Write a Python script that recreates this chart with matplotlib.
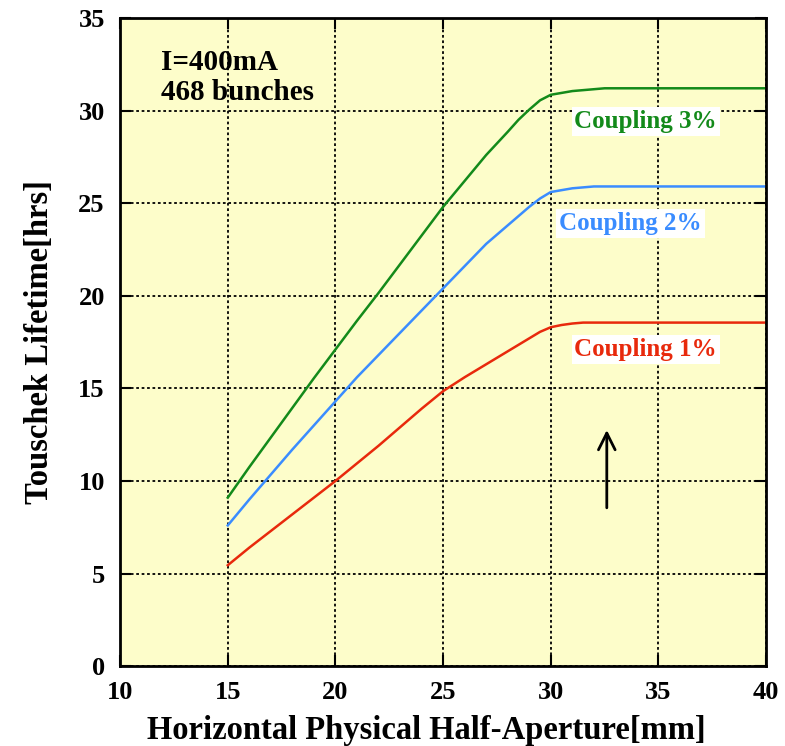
import numpy as np
import matplotlib
matplotlib.use('Agg')
import matplotlib.pyplot as plt

plt.rcParams['font.family'] = ['Liberation Serif', 'DejaVu Serif']
plt.rcParams['font.weight'] = 'bold'

# aperture [mm]
x = [15, 16, 17, 18, 19, 20, 21, 22, 23, 24, 25, 26, 27, 28, 28.5, 29, 29.5,
     30, 30.5, 31, 31.5, 32, 32.5, 40]
# lifetime [hrs]
cpl3 = [9.1, 10.75, 12.35, 13.95, 15.55, 17.1, 18.65, 20.15, 21.7, 23.25, 24.8,
        26.2, 27.6, 28.85, 29.5, 30.05, 30.55, 30.85, 30.95, 31.05, 31.1,
        31.15, 31.2, 31.2]
cpl2 = [7.6, 9.0, 10.35, 11.7, 13.0, 14.3, 15.6, 16.8, 18.0, 19.2, 20.4, 21.6,
        22.8, 23.8, 24.3, 24.8, 25.25, 25.6, 25.7, 25.8, 25.85, 25.9, 25.9, 25.9]
cpl1 = [5.45, 6.4, 7.3, 8.2, 9.1, 10.0, 10.95, 11.9, 12.9, 13.9, 14.85, 15.6,
        16.3, 17.0, 17.35, 17.7, 18.05, 18.3, 18.42, 18.5, 18.55, 18.55,
        18.55, 18.55]

labels = ['Coupling 3%', 'Coupling 2%', 'Coupling 1%']
colors = ['#138a1a', '#3a8cff', '#e8290c']

fig = plt.figure(figsize=(7.85, 7.46), dpi=100)
ax = fig.add_axes([0.153, 0.107, 0.823, 0.869])
ax.set_facecolor('#fdfdca')

for y, c in zip([cpl3, cpl2, cpl1], colors):
    ax.plot(x, y, color=c, lw=1.8)

ax.set_xlim(10, 40)
ax.set_ylim(0, 35)
ax.set_xticks(np.arange(10, 41, 5))
ax.set_yticks(np.arange(0, 36, 5))
ax.grid(True, color='black', linestyle=(0, (1.5, 1.5)), lw=1.3)
ax.tick_params(direction='in', length=8, width=1.5, top=True, right=True,
               labelsize=19, pad=11)
for s in ax.spines.values():
    s.set_linewidth(2)

ax.set_xlabel('Horizontal Physical Half-Aperture[mm]', fontsize=23.5,
              fontweight='bold', labelpad=8)
ax.xaxis.set_label_coords(0.474, -0.075)
ax.set_ylabel('Touschek Lifetime[hrs]', fontsize=23.5, fontweight='bold',
              labelpad=17)

ax.text(11.9, 33.3, 'I=400mA\n468 bunches', fontsize=21, fontweight='bold',
        va='top', ha='left', linespacing=1.12)

for (lx, ly), t, c in zip([(34.4, 29.4), (33.7, 23.9), (34.4, 17.1)], labels, colors):
    ax.text(lx, ly, t, color=c, fontsize=18, fontweight='bold', ha='center',
            va='center', bbox=dict(facecolor='white', edgecolor='none', pad=2))

ax.annotate('', xy=(32.6, 12.9), xytext=(32.6, 8.4),
            arrowprops=dict(arrowstyle='->', lw=2, color='black',
                            mutation_scale=30))

fig.savefig('out.png', dpi=100)
